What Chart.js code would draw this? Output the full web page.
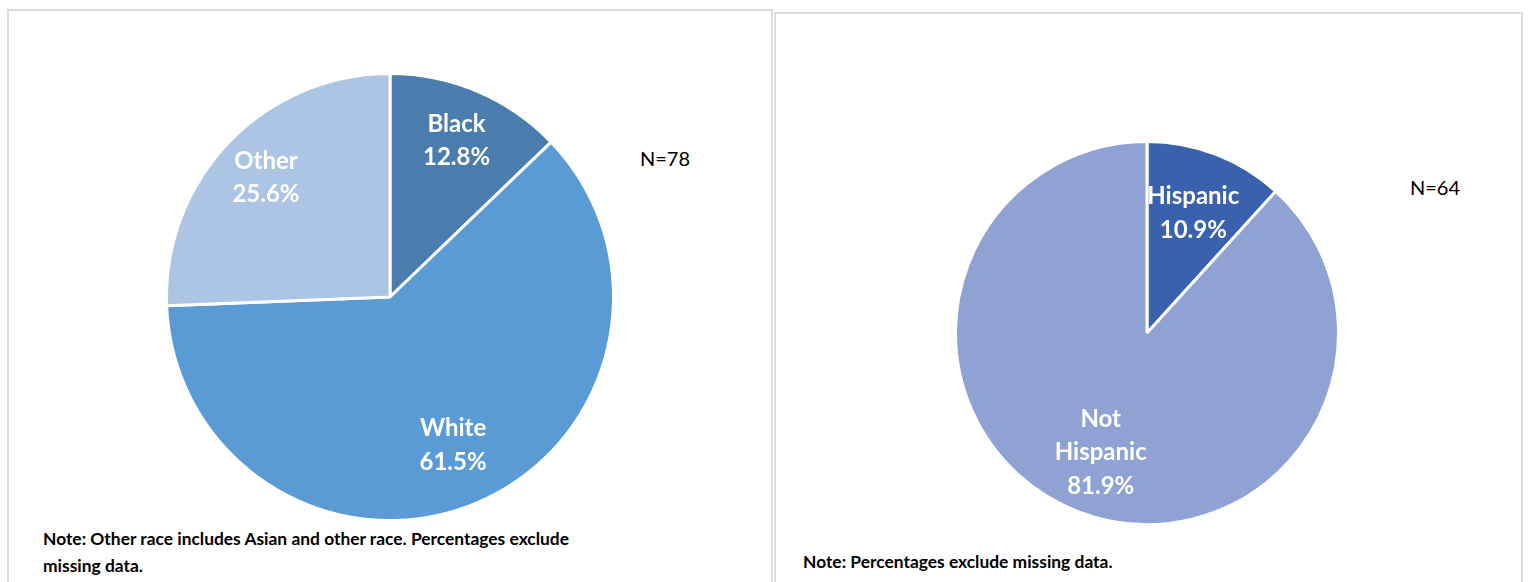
<!DOCTYPE html>
<html>
<head>
<meta charset="utf-8">
<script src="https://cdn.jsdelivr.net/npm/chart.js@4.4.1/dist/chart.umd.min.js"></script>
<style>
  body { margin: 0; width: 1532px; height: 582px; background: #fff; position: relative; overflow: hidden; font-family: Lato, "Open Sans", sans-serif; }
  .panel { position: absolute; border: 2px solid #dcdcdc; background: #fff; }
  canvas { position: absolute; }
  .n { position: absolute; font-size: 20px; color: #000; }
  .note { position: absolute; font-size: 17.4px; font-weight: bold; color: #000; line-height: 27px; }
</style>
</head>
<body>
<div class="panel" style="left:7px; top:9px; width:762px; height:600px;"></div>
<div class="panel" style="left:774px; top:12px; width:745px; height:600px;"></div>

<canvas id="raceChart" width="500" height="449" style="left:140px; top:70px;"></canvas>
<canvas id="ethChart" width="440" height="400" style="left:927px; top:133px;"></canvas>

<div class="n" style="left:640px; top:146px;">N=78</div>
<div class="n" style="left:1410px; top:175px;">N=64</div>

<div class="note" style="left:43px; top:525px;">Note: Other race includes Asian and other race. Percentages exclude<br>missing data.</div>
<div class="note" style="left:803px; top:548px;">Note: Percentages exclude missing data.</div>

<script>
// Datos
const raceLabels = ['Black', 'White', 'Other'];
const raceValues = [12.8, 61.5, 25.6];
const raceColors = ['#4a7dae', '#5b9bd5', '#adc5e5'];

const ethLabels = ['Hispanic', ['Not', 'Hispanic']];
const ethValues = [10.9, 81.9];
const ethColors = ['#3a62ac', '#8fa2d4'];

// Etiquetas dentro de cada sector
const sliceLabels = {
    id: 'sliceLabels',
    afterDatasetsDraw(chart, args, opts) {
        const ctx = chart.ctx;
        const meta = chart.getDatasetMeta(0);
        const values = chart.data.datasets[0].data;
        ctx.save();
        ctx.fillStyle = '#fff';
        ctx.font = 'bold 24px Lato';
        ctx.textAlign = 'center';
        ctx.textBaseline = 'middle';
        meta.data.forEach((arc, i) => {
            const p = arc.getProps(['x', 'y', 'startAngle', 'endAngle', 'outerRadius'], true);
            const mid = (p.startAngle + p.endAngle) / 2;
            const r = p.outerRadius * opts.fraction[i];
            const cx = p.x + Math.cos(mid) * r;
            const cy = p.y + Math.sin(mid) * r;
            const label = chart.data.labels[i];
            const lines = (Array.isArray(label) ? label : [label]).concat(values[i].toFixed(1) + '%');
            const lh = 33.5;
            const y0 = cy - (lines.length - 1) * lh / 2;
            lines.forEach((t, k) => ctx.fillText(t, cx, y0 + k * lh));
        });
        ctx.restore();
    }
};

function makePie(id, labels, values, colors, radius, padding, fraction) {
    const ctx = document.getElementById(id).getContext('2d');
    return new Chart(ctx, {
        type: 'pie',
        data: {
            labels: labels,
            datasets: [{
                data: values,
                backgroundColor: colors,
                borderColor: '#ffffff',
                borderWidth: 3,
                radius: radius,
                clip: false
            }]
        },
        options: {
            responsive: false,
            animation: false,
            layout: { padding: padding },
            plugins: {
                legend: { display: false },
                tooltip: { enabled: false },
                sliceLabels: { fraction: fraction }
            }
        },
        plugins: [sliceLabels]
    });
}

makePie('raceChart', raceLabels, raceValues, raceColors, 223.5, { top: 5, bottom: 0 }, [0.76, 0.72, 0.77]);
makePie('ethChart', ethLabels, ethValues, ethColors, 191.5, 0, [0.67, 0.67]);
</script>
</body>
</html>
